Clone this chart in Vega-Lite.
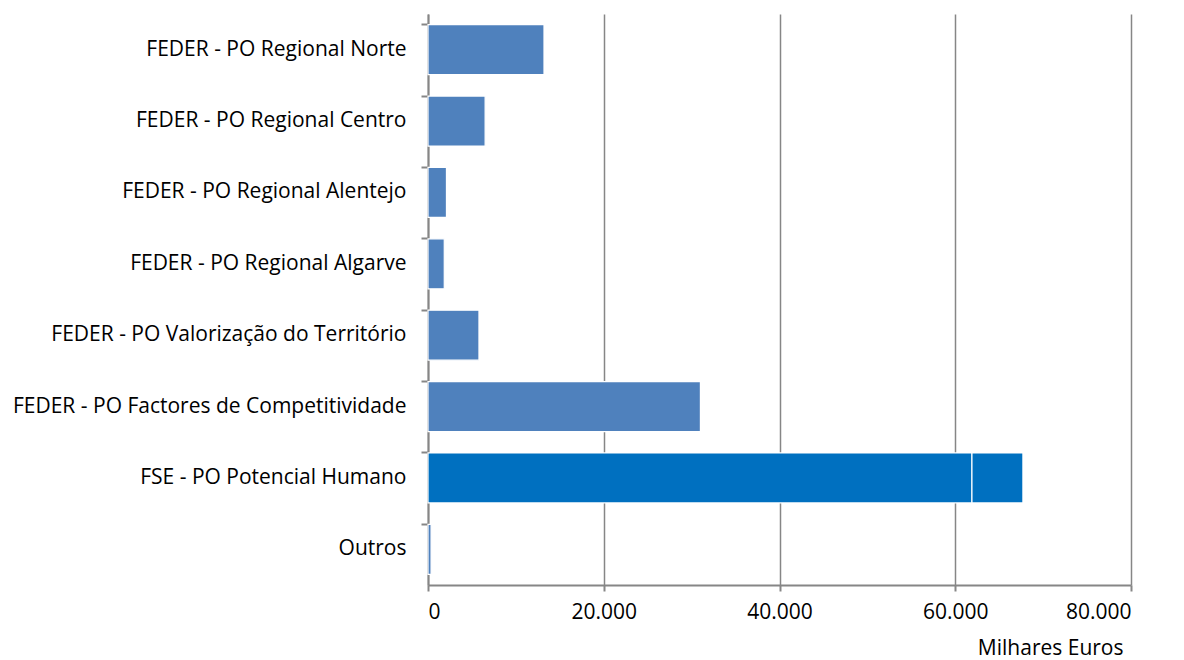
{
  "$schema": "https://vega.github.io/schema/vega-lite/v6.json",
  "width": 703,
  "height": 571,
  "autosize": {"type": "none"},
  "padding": {"left": 428, "top": 14, "right": 53, "bottom": 75},
  "background": "white",
  "data": {
    "values": [
      {"programa": "FEDER - PO Regional Norte", "fundo": "FEDER", "parte": 1, "valor": 13200},
      {"programa": "FEDER - PO Regional Centro", "fundo": "FEDER", "parte": 1, "valor": 6500},
      {"programa": "FEDER - PO Regional Alentejo", "fundo": "FEDER", "parte": 1, "valor": 2100},
      {"programa": "FEDER - PO Regional Algarve", "fundo": "FEDER", "parte": 1, "valor": 1850},
      {"programa": "FEDER - PO Valorização do Território", "fundo": "FEDER", "parte": 1, "valor": 5800},
      {"programa": "FEDER - PO Factores de Competitividade", "fundo": "FEDER", "parte": 1, "valor": 31000},
      {"programa": "FSE - PO Potencial Humano", "fundo": "FSE", "parte": 1, "valor": 61900},
      {"programa": "FSE - PO Potencial Humano", "fundo": "FSE", "parte": 2, "valor": 5800},
      {"programa": "Outros", "fundo": "FEDER", "parte": 1, "valor": 350}
    ]
  },
  "config": {
    "view": {"stroke": null},
    "font": "Open Sans",
    "axis": {"labelFont": "Open Sans", "titleFont": "Open Sans", "labelColor": "#000000", "titleColor": "#000000"}
  },
  "mark": {"type": "bar", "stroke": "white", "strokeWidth": 1.2},
  "encoding": {
    "y": {
      "field": "programa",
      "type": "nominal",
      "sort": null,
      "scale": {"paddingInner": 0.3, "paddingOuter": 0.15},
      "axis": {
        "title": null,
        "labelFontSize": 21,
        "labelPadding": 15,
        "tickSize": 7,
        "tickColor": "#868686",
        "tickWidth": 2,
        "bandPosition": 0,
        "domainColor": "#868686",
        "domainWidth": 2,
        "grid": false,
        "labelLimit": 500
      }
    },
    "x": {
      "field": "valor",
      "type": "quantitative",
      "stack": "zero",
      "scale": {"domain": [0, 80000], "nice": false},
      "axis": {
        "values": [0, 20000, 40000, 60000, 80000],
        "format": ",.0f",
        "labelExpr": "replace(datum.label, ',', '.')",
        "labelFontSize": 21,
        "labelPadding": 10,
        "tickSize": 6,
        "tickColor": "#868686",
        "tickWidth": 2,
        "domainColor": "#868686",
        "domainWidth": 2,
        "grid": true,
        "gridColor": "#868686",
        "gridWidth": 1.5,
        "title": "Milhares Euros",
        "titleFontSize": 21,
        "titleFontWeight": "normal",
        "titleAnchor": "end",
        "titleX": 695,
        "titleAlign": "right",
        "titlePadding": 15
      }
    },
    "order": {"field": "parte", "type": "quantitative"},
    "color": {
      "field": "fundo",
      "type": "nominal",
      "scale": {"domain": ["FEDER", "FSE"], "range": ["#4F81BD", "#0070C0"]},
      "legend": null
    }
  }
}
